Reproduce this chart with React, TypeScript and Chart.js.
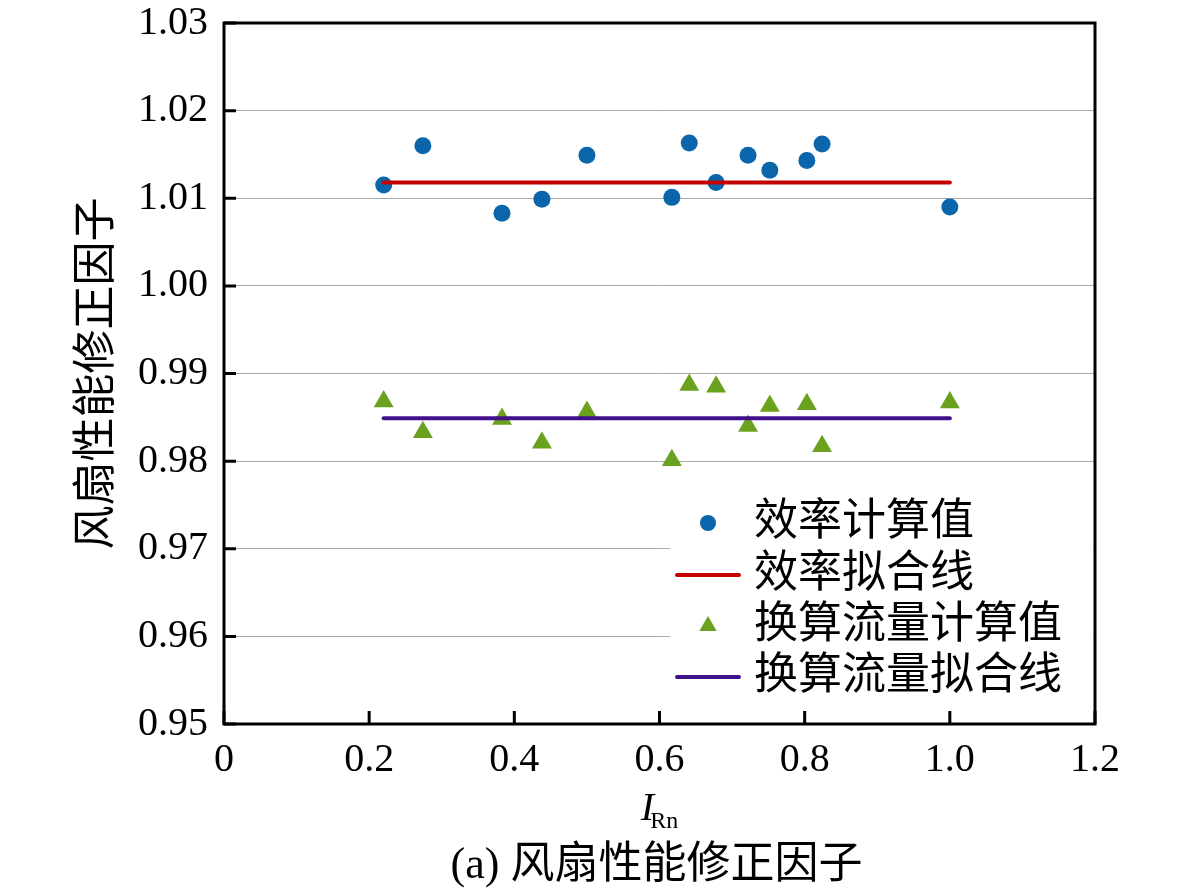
import { useEffect, useRef } from 'react';
import { Chart, registerables } from 'chart.js';
import type { Plugin } from 'chart.js';

Chart.register(...registerables);

// values
const irn = [0.22, 0.274, 0.383, 0.438, 0.5, 0.617, 0.641, 0.678, 0.722, 0.752, 0.803, 0.824, 1.0];
const effCalc = [1.0115, 1.016, 1.0083, 1.0099, 1.0149, 1.0101, 1.0163, 1.0118, 1.0149, 1.0132, 1.0143, 1.0162, 1.009];
const flowCalc = [0.9868, 0.9833, 0.9848, 0.9821, 0.9856, 0.9801, 0.9887, 0.9885, 0.984, 0.9863, 0.9865, 0.9817, 0.9867];
const fitX = [0.22, 1.0];
const effFit = [1.0118, 1.0118];
const flowFit = [0.9849, 0.9849];

const xTicks = [0, 0.2, 0.4, 0.6, 0.8, 1.0, 1.2];
const yTicks = [0.95, 0.96, 0.97, 0.98, 0.99, 1.0, 1.01, 1.02, 1.03];
const seriesLabels = ['效率计算值', '效率拟合线', '换算流量计算值', '换算流量拟合线'];

const yTitle = '风扇性能修正因子';
const caption = '(a) 风扇性能修正因子';

const BLUE = '#0a65aa';
const RED = '#c40000';
const GREEN = '#6aa11f';
const PURPLE = '#43108c';

const SERIF = '"Liberation Serif", "Times New Roman", serif';
const MIXED = '"Liberation Serif", "Noto Sans CJK SC", serif';

// chart area edges wanted on the page
const AREA_TOP = 23;

const framePlugin: Plugin = {
  id: 'frame',
  afterDraw(chart) {
    const { ctx, chartArea: a, scales } = chart;
    ctx.save();

    // legend box (white, hides grid lines)
    const lx = 670;
    const ly = 492;
    ctx.fillStyle = '#fff';
    ctx.fillRect(lx, ly, a.right - lx - 2, 212);

    // frame + inward ticks
    ctx.strokeStyle = '#000';
    ctx.lineWidth = 3;
    ctx.strokeRect(a.left, a.top, a.right - a.left, a.bottom - a.top);
    ctx.beginPath();
    yTicks.forEach((v) => {
      const y = scales.y.getPixelForValue(v);
      ctx.moveTo(a.left, y);
      ctx.lineTo(a.left + 12, y);
    });
    xTicks.forEach((v) => {
      const x = scales.x.getPixelForValue(v);
      ctx.moveTo(x, a.bottom);
      ctx.lineTo(x, a.bottom - 13);
    });
    ctx.stroke();

    // legend entries
    ctx.fillStyle = '#000';
    ctx.font = `44px ${MIXED}`;
    ctx.textBaseline = 'middle';
    ctx.textAlign = 'left';
    const rows = [523, 575, 626, 677];
    chart.data.datasets.forEach((ds: any, i) => {
      const y = rows[i];
      const sx = 708;
      if (ds.showLine) {
        ctx.strokeStyle = ds.borderColor;
        ctx.lineWidth = 4;
        ctx.lineCap = 'round';
        ctx.beginPath();
        ctx.moveTo(sx - 31, y);
        ctx.lineTo(sx + 31, y);
        ctx.stroke();
      } else if (ds.pointStyle === 'triangle') {
        const r = 10;
        ctx.fillStyle = ds.backgroundColor;
        ctx.beginPath();
        ctx.moveTo(sx, y - r);
        ctx.lineTo(sx + r * 0.866, y + r / 2);
        ctx.lineTo(sx - r * 0.866, y + r / 2);
        ctx.closePath();
        ctx.fill();
      } else {
        ctx.fillStyle = ds.backgroundColor;
        ctx.beginPath();
        ctx.arc(sx, y, 8, 0, Math.PI * 2);
        ctx.fill();
      }
      ctx.fillStyle = '#000';
      ctx.fillText(ds.label, 754, y);
    });

    // y axis title
    ctx.save();
    ctx.translate(98, (a.top + a.bottom) / 2);
    ctx.rotate(-Math.PI / 2);
    ctx.textAlign = 'center';
    ctx.font = `44px ${MIXED}`;
    ctx.fillText(yTitle, 0, 0);
    ctx.restore();

    // x axis title: I_Rn
    const cx = (a.left + a.right) / 2;
    ctx.textBaseline = 'alphabetic';
    ctx.font = `italic 40px ${SERIF}`;
    const wI = ctx.measureText('I').width;
    ctx.font = `24px ${SERIF}`;
    const wRn = ctx.measureText('Rn').width;
    const x0 = cx - (wI + wRn - 4) / 2;
    ctx.font = `italic 40px ${SERIF}`;
    ctx.fillText('I', x0, 820);
    ctx.font = `24px ${SERIF}`;
    ctx.fillText('Rn', x0 + wI - 4, 828);

    // caption
    ctx.textAlign = 'center';
    ctx.textBaseline = 'middle';
    ctx.font = `44px ${MIXED}`;
    ctx.fillText(caption, cx - 3, 866);

    ctx.restore();
  },
};

export default function App() {
  const canvasRef = useRef<HTMLCanvasElement>(null);

  useEffect(() => {
    document.body.style.margin = '0';
    if (!canvasRef.current) return;

    const chart = new Chart(canvasRef.current, {
      type: 'scatter',
      data: {
        datasets: [
          {
            label: seriesLabels[0],
            data: irn.map((x, i) => ({ x, y: effCalc[i] })),
            pointStyle: 'circle',
            pointRadius: 8.5,
            pointBorderWidth: 0,
            backgroundColor: BLUE,
            borderColor: BLUE,
            order: 2,
          },
          {
            label: seriesLabels[1],
            data: fitX.map((x, i) => ({ x, y: effFit[i] })),
            showLine: true,
            borderColor: RED,
            borderWidth: 4,
            borderCapStyle: 'round',
            pointRadius: 0,
            order: 0,
          },
          {
            label: seriesLabels[2],
            data: irn.map((x, i) => ({ x, y: flowCalc[i] })),
            pointStyle: 'triangle',
            pointRadius: 11.5,
            pointBorderWidth: 0,
            backgroundColor: GREEN,
            borderColor: GREEN,
            order: 2,
          },
          {
            label: seriesLabels[3],
            data: fitX.map((x, i) => ({ x, y: flowFit[i] })),
            showLine: true,
            borderColor: PURPLE,
            borderWidth: 4,
            borderCapStyle: 'round',
            pointRadius: 0,
            order: 0,
          },
        ] as any,
      },
      options: {
        responsive: false,
        animation: false,
        layout: { padding: { left: 0, top: 0, right: 86, bottom: 0 } },
        plugins: {
          legend: { display: false },
          tooltip: { enabled: false },
        },
        scales: {
          x: {
            type: 'linear',
            min: 0,
            max: 1.2,
            afterBuildTicks: (scale) => {
              scale.ticks = xTicks.map((value) => ({ value }));
            },
            afterFit: (scale) => {
              scale.height = 166;
            },
            grid: { display: false, drawTicks: false },
            border: { display: false },
            ticks: {
              autoSkip: false,
              maxRotation: 0,
              padding: 12,
              color: '#000',
              font: { family: SERIF, size: 40 },
              callback: (v) => (Number(v) === 0 ? '0' : Number(v).toFixed(1)),
            },
          },
          y: {
            type: 'linear',
            min: 0.95,
            max: 1.03,
            afterBuildTicks: (scale) => {
              scale.ticks = yTicks.map((value) => ({ value }));
            },
            afterFit: (scale) => {
              scale.width = 224;
              // keep the top edge of the plot where the reference has it
              (scale as any).paddingTop = AREA_TOP;
            },
            grid: { color: '#a8a8a8', lineWidth: 1, drawTicks: false },
            border: { display: false },
            ticks: {
              autoSkip: false,
              padding: 16,
              color: '#000',
              font: { family: SERIF, size: 40 },
              callback: (v) => Number(v).toFixed(2),
            },
          },
        },
      },
      plugins: [framePlugin],
    });

    return () => {
      chart.destroy();
    };
  }, []);

  return (
    <div style={{ width: 1181, height: 890, background: '#fff' }}>
      <canvas ref={canvasRef} width={1181} height={890} style={{ display: 'block' }} />
    </div>
  );
}
